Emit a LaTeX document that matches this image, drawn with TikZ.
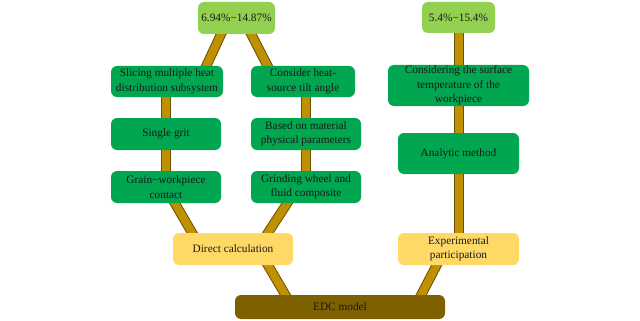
\documentclass[tikz,border=0pt]{standalone}
\usepackage{fontspec}
\setmainfont{Liberation Serif}
\usetikzlibrary{calc,backgrounds}
\definecolor{dkgreen}{HTML}{00A650}
\definecolor{ltgreen}{HTML}{92D050}
\definecolor{ylw}{HTML}{FFD966}
\definecolor{edcbrown}{HTML}{7F6000}
\definecolor{barfill}{HTML}{BF9000}
\definecolor{barline}{HTML}{6B5000}
\begin{document}
\begin{tikzpicture}[x=1pt,y=-1pt,
  box/.style={rounded corners=6pt, inner sep=0pt, align=center,
    font=\fontsize{11.3}{14.5}\selectfont, text=black!90},
  gbox/.style={box, fill=dkgreen},
  lbox/.style={box, fill=ltgreen},
  ybox/.style={box, fill=ylw},
  ebox/.style={box, fill=edcbrown},
  bar/.style={draw=barline, line width=1pt, double=barfill, double distance=8pt,
    shorten <=-3pt, shorten >=-3pt}]
\useasboundingbox (0,0) rectangle (640,321);

% left top
\node[lbox, minimum width=77pt, minimum height=32pt] (r1) at (236.5,18) {6.94\%−14.87\%};
\node[gbox, minimum width=112pt, minimum height=31pt] (slice) at (167,81.5) {Slicing multiple heat\\distribution subsystem};
\node[gbox, minimum width=104pt, minimum height=31pt] (tilt) at (303,81.5) {Consider heat-\\source tilt angle};
\node[gbox, minimum width=110pt, minimum height=32pt] (grit) at (166,134) {Single grit};
\node[gbox, minimum width=110pt, minimum height=32pt] (mat) at (306,134) {Based on material\\physical parameters};
\node[gbox, minimum width=110pt, minimum height=32pt] (grain) at (166,187) {Grain−workpiece\\contact};
\node[gbox, minimum width=110pt, minimum height=32pt] (wheel) at (306,187) {Grinding wheel and\\fluid composite};
\node[ybox, minimum width=120pt, minimum height=32pt] (direct) at (233,249) {Direct calculation};
\node[ebox, minimum width=210pt, minimum height=24pt] (edc) at (340,307) {EDC model};

% right
\node[lbox, minimum width=73pt, minimum height=31pt] (r2) at (458.5,17.5) {5.4\%−15.4\%};
\node[gbox, minimum width=141pt, minimum height=41pt] (surf) at (458.5,85.5) {Considering the surface\\temperature of the\\workpiece};
\node[gbox, minimum width=121pt, minimum height=41pt] (ana) at (458.5,153.5) {Analytic method};
\node[ybox, minimum width=121pt, minimum height=32pt] (exp) at (458.5,249) {Experimental\\participation};

\begin{pgfonlayer}{background}
\fill[white] (0,0) rectangle (640,321);
\draw[bar] ($(r1.south west)!0.3!(r1.south east)$) -- ($(slice.north west)!0.85!(slice.north east)$);
\draw[bar] ($(r1.south west)!0.69!(r1.south east)$) -- ($(tilt.north west)!0.16!(tilt.north east)$);
\draw[bar] (grain.center) -- (grain.center |- slice.center);
\draw[bar] (wheel.center) -- (wheel.center |- tilt.center);
\draw[bar] ($(grain.south west)!0.58!(grain.south east)$) -- ($(direct.north west)!0.16!(direct.north east)$);
\draw[bar] ($(wheel.south west)!0.33!(wheel.south east)$) -- ($(direct.north west)!0.79!(direct.north east)$);
\draw[bar] ($(direct.south west)!0.79!(direct.south east)$) -- ($(edc.north west)!0.24!(edc.north east)$);
\draw[bar] (r2.center) -- (exp.center);
\draw[bar] ($(exp.south west)!0.32!(exp.south east)$) -- ($(edc.north west)!0.886!(edc.north east)$);
\end{pgfonlayer}
\end{tikzpicture}
\end{document}
